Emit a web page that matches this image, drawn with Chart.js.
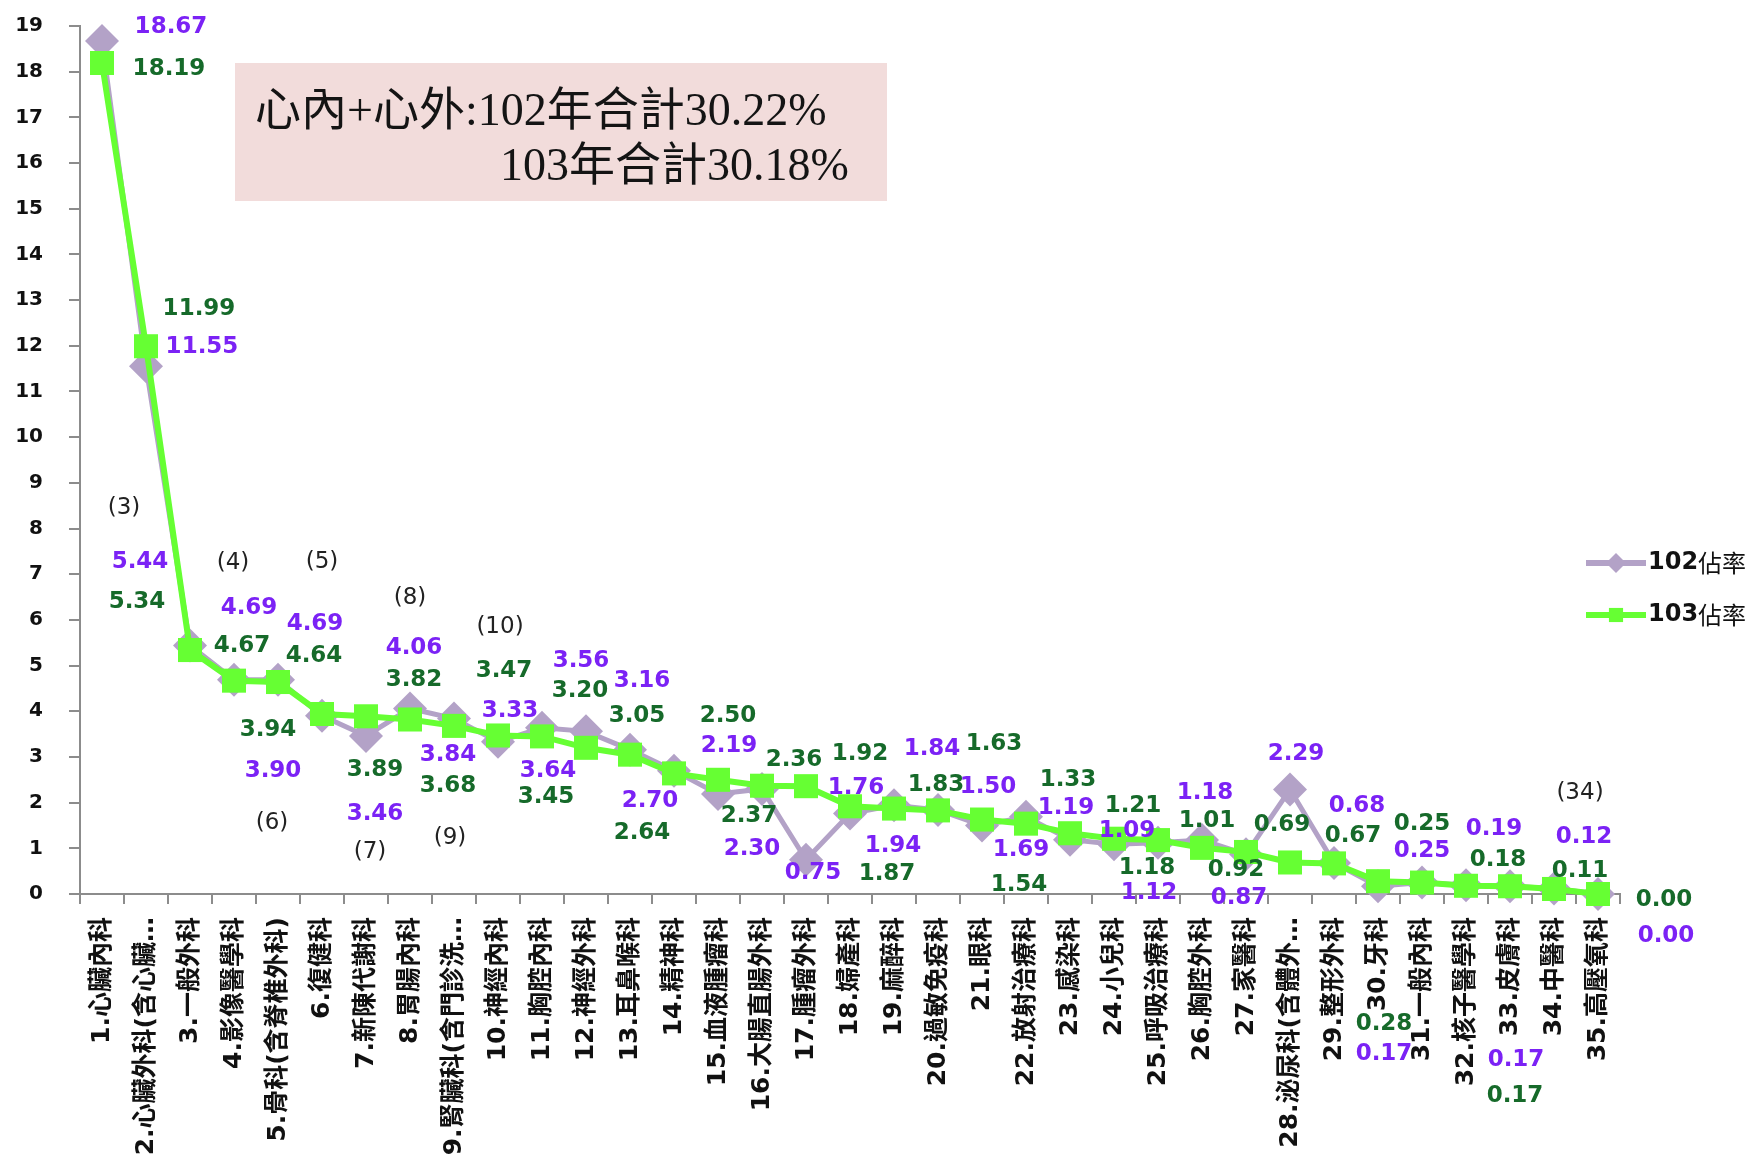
<!DOCTYPE html>
<html>
<head>
<meta charset="utf-8">
<script src="https://cdn.jsdelivr.net/npm/chart.js@4/dist/chart.umd.min.js"></script>
<style>
  html, body { margin: 0; padding: 0; background: #ffffff; }
  #wrap { width: 1756px; height: 1155px; }
</style>
</head>
<body>
<div id="wrap"><canvas id="chart" width="1756" height="1155"></canvas></div>
<script>
// Department share of cases, year 102 vs year 103 (%)
const categories = [
  '1.心臟內科', '2.心臟外科(含心臟…', '3.一般外科', '4.影像醫學科', '5.骨科(含脊椎外科)',
  '6.復健科', '7.新陳代謝科', '8.胃腸內科', '9.腎臟科(含門診洗…', '10.神經內科',
  '11.胸腔內科', '12.神經外科', '13.耳鼻喉科', '14.精神科', '15.血液腫瘤科',
  '16.大腸直腸外科', '17.腫瘤外科', '18.婦產科', '19.麻醉科', '20.過敏免疫科',
  '21.眼科', '22.放射治療科', '23.感染科', '24.小兒科', '25.呼吸治療科',
  '26.胸腔外科', '27.家醫科', '28.泌尿科(含體外…', '29.整形外科', '30.牙科',
  '31.一般內科', '32.核子醫學科', '33.皮膚科', '34.中醫科', '35.高壓氧科'
];
const share102 = [
  18.67, 11.55, 5.44, 4.69, 4.69, 3.90, 3.46, 4.06, 3.84, 3.33,
  3.64, 3.56, 3.16, 2.70, 2.19, 2.30, 0.75, 1.76, 1.94, 1.84,
  1.50, 1.69, 1.19, 1.09, 1.12, 1.18, 0.87, 2.29, 0.68, 0.17,
  0.25, 0.19, 0.17, 0.12, 0.00
];
const share103 = [
  18.19, 11.99, 5.34, 4.67, 4.64, 3.94, 3.89, 3.82, 3.68, 3.47,
  3.45, 3.20, 3.05, 2.64, 2.50, 2.37, 2.36, 1.92, 1.87, 1.83,
  1.63, 1.54, 1.33, 1.21, 1.18, 1.01, 0.92, 0.69, 0.67, 0.28,
  0.25, 0.18, 0.17, 0.11, 0.00
];
const seriesNames = ['102佔率', '103佔率'];
// Ranking notes shown beside some departments: [category index, text]
const rankNotes = [[2, '(3)'], [3, '(4)'], [4, '(5)'], [5, '(6)'], [6, '(7)'],
                   [7, '(8)'], [8, '(9)'], [9, '(10)'], [33, '(34)']];
const summaryLines = ['心內+心外:102年合計30.22%', '103年合計30.18%'];

// ---- styling / placement (pixels) ----
const PURPLE = '#B3A2C7';
const GREEN = '#66FF33';
const PURPLE_TEXT = '#7B22F5';
const GREEN_TEXT = '#166A2A';
const AXIS = '#8C8C8C';
const LATIN = '"DejaVu Sans"';
const CJK = '"Noto Sans CJK TC"';

// value label offsets from each point [dx, dy]
const labelPos102 = [
  [69,-14],[56,-19],[-50,-83],[15,-72],[37,-56],[-49,55],[9,78],[4,-60],[-6,36],[12,-31],
  [6,43],[-5,-70],[12,-69],[-24,30],[11,-48],[-10,60],[7,13],[6,-26],[-1,41],[-6,-61],
  [6,-38],[-5,33],[-4,-32],[13,-13],[-9,50],[3,-47],[-7,44],[6,-35],[23,-57],[6,168],
  [0,-32],[28,-56],[6,174],[30,-51],[68,42]
];
const labelPos103 = [
  [67,6],[53,-37],[-53,-48],[8,-35],[36,-26],[-54,16],[9,54],[4,-39],[-6,60],[6,-64],
  [4,61],[-6,-57],[7,-39],[-32,60],[10,-64],[-13,30],[-12,-26],[10,-52],[-7,65],[-2,-25],
  [12,-76],[-7,61],[-2,-53],[19,-33],[-11,28],[5,-27],[-10,18],[-8,-37],[19,-27],[6,143],
  [0,-59],[32,-26],[5,210],[26,-18],[66,6]
];
// rank note offsets from the 103 point of that category
const rankPos = [[-66,-142],[-1,-118],[44,-120],[-50,109],[4,136],[0,-121],[-4,112],[2,-108],[26,-96]];

const decorations = {
  id: 'decorations',
  beforeDatasetsDraw(chart) {
    const ctx = chart.ctx;
    ctx.save();
    // summary box
    ctx.fillStyle = '#F2DCDB';
    ctx.fillRect(235, 63, 652, 138);
    ctx.fillStyle = '#141414';
    ctx.font = '46px "Liberation Serif", ' + CJK;
    ctx.textBaseline = 'alphabetic';
    ctx.textAlign = 'left';
    ctx.fillText(summaryLines[0], 255, 125);
    ctx.fillText(summaryLines[1], 500, 180);
    ctx.restore();
  },
  afterDatasetsDraw(chart) {
    const ctx = chart.ctx;
    ctx.save();
    ctx.textAlign = 'center';
    ctx.textBaseline = 'middle';
    ctx.font = 'bold 23px ' + LATIN;
    const m102 = chart.getDatasetMeta(0).data;
    const m103 = chart.getDatasetMeta(1).data;
    m102.forEach((pt, i) => {
      ctx.fillStyle = PURPLE_TEXT;
      ctx.fillText(share102[i].toFixed(2), pt.x + labelPos102[i][0], pt.y + labelPos102[i][1]);
    });
    m103.forEach((pt, i) => {
      ctx.fillStyle = GREEN_TEXT;
      ctx.fillText(share103[i].toFixed(2), pt.x + labelPos103[i][0], pt.y + labelPos103[i][1]);
    });
    // rank notes
    ctx.font = '23px ' + LATIN;
    ctx.fillStyle = '#222222';
    rankNotes.forEach(([idx, txt], k) => {
      const pt = m103[idx];
      ctx.fillText(txt, pt.x + rankPos[k][0], pt.y + rankPos[k][1]);
    });
    // legend
    const items = [
      {name: seriesNames[0], color: PURPLE, style: 'rectRot', r: 10, y: 563},
      {name: seriesNames[1], color: GREEN, style: 'rect', r: 10, y: 615}
    ];
    items.forEach(it => {
      ctx.strokeStyle = it.color;
      ctx.lineWidth = 6;
      ctx.beginPath();
      ctx.moveTo(1586, it.y);
      ctx.lineTo(1646, it.y);
      ctx.stroke();
      ctx.fillStyle = it.color;
      Chart.helpers.drawPoint(ctx, {pointStyle: it.style, radius: it.r, borderWidth: 0, rotation: 0}, 1616, it.y);
      ctx.textAlign = 'left';
      ctx.fillStyle = '#111111';
      const num = it.name.slice(0, 3);
      const rest = it.name.slice(3);
      ctx.font = 'bold 24px ' + LATIN;
      ctx.fillText(num, 1648, it.y);
      const w = ctx.measureText(num).width;
      ctx.font = '24px ' + CJK;
      ctx.fillText(rest, 1648 + w, it.y);
    });
    ctx.restore();
  }
};

new Chart(document.getElementById('chart'), {
  type: 'line',
  data: {
    labels: categories,
    datasets: [
      {
        label: seriesNames[0], data: share102, order: 2, clip: false,
        borderColor: PURPLE, backgroundColor: PURPLE, borderWidth: 5, tension: 0,
        pointStyle: 'rectRot', pointRadius: 17, pointHoverRadius: 17, pointBorderWidth: 0
      },
      {
        label: seriesNames[1], data: share103, order: 1, clip: false,
        borderColor: GREEN, backgroundColor: GREEN, borderWidth: 6, tension: 0,
        pointStyle: 'rect', pointRadius: 17, pointHoverRadius: 17, pointBorderWidth: 0
      }
    ]
  },
  options: {
    responsive: false,
    animation: false,
    devicePixelRatio: 1,
    layout: { padding: { top: 26, right: 136, bottom: 0, left: 0 } },
    plugins: { legend: { display: false }, tooltip: { enabled: false } },
    scales: {
      x: {
        offset: true,
        grid: { offset: true, drawOnChartArea: false, tickLength: 10, color: AXIS, lineWidth: 2 },
        border: { color: AXIS, width: 2 },
        ticks: {
          autoSkip: false, minRotation: 90, maxRotation: 90, padding: 13, color: '#111111',
          font: { family: LATIN + ', ' + CJK, size: 25, weight: 'bold' }
        },
        afterFit(scale) { scale.height = 261; }
      },
      y: {
        min: 0, max: 19,
        grid: { drawOnChartArea: false, tickLength: 11, color: AXIS, lineWidth: 2 },
        border: { color: AXIS, width: 2 },
        ticks: {
          stepSize: 1, padding: 26, color: '#111111',
          font: { family: LATIN, size: 20, weight: 'bold' }
        },
        afterFit(scale) {
          scale.width = 80;
          scale.paddingTop = 12;
          scale.paddingBottom = 12;
        }
      }
    }
  },
  plugins: [decorations]
});
</script>
</body>
</html>
